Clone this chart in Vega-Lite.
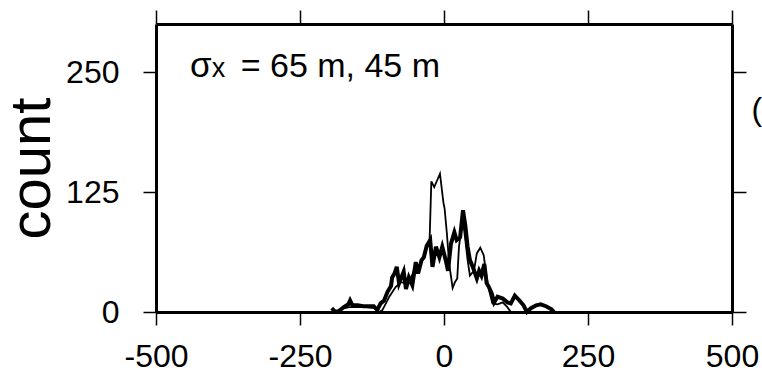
{
  "$schema": "https://vega.github.io/schema/vega-lite/v6.json",
  "autosize": "none",
  "width": 576,
  "height": 288,
  "padding": {"left": 156, "top": 24, "right": 30, "bottom": 61},
  "background": "white",
  "config": {
    "view": {"stroke": null},
    "font": "Liberation Sans",
    "text": {"font": "Liberation Sans", "color": "black"},
    "axis": {
      "grid": false,
      "domainColor": "black",
      "domainWidth": 3,
      "tickColor": "black",
      "tickWidth": 1.5,
      "labelColor": "black",
      "labelFont": "Liberation Sans",
      "labelFontSize": 32,
      "labelFlush": false,
      "labelOverlap": false,
      "labelBound": false,
      "titleFont": "Liberation Sans",
      "titleColor": "black",
      "titleFontWeight": "normal"
    }
  },
  "datasets": {
    "hist": [
      {"series": "thick", "x": -195, "count": 4},
      {"series": "thick", "x": -190, "count": 1},
      {"series": "thick", "x": -185, "count": 0},
      {"series": "thick", "x": -174, "count": 5},
      {"series": "thick", "x": -166, "count": 8},
      {"series": "thick", "x": -163, "count": 12},
      {"series": "thick", "x": -159, "count": 7},
      {"series": "thick", "x": -150, "count": 7},
      {"series": "thick", "x": -140, "count": 6},
      {"series": "thick", "x": -130, "count": 6},
      {"series": "thick", "x": -122, "count": 6},
      {"series": "thick", "x": -116, "count": 2},
      {"series": "thick", "x": -110, "count": 9},
      {"series": "thick", "x": -104, "count": 12},
      {"series": "thick", "x": -98, "count": 21},
      {"series": "thick", "x": -92, "count": 27},
      {"series": "thick", "x": -90, "count": 36},
      {"series": "thick", "x": -86, "count": 40},
      {"series": "thick", "x": -82, "count": 47},
      {"series": "thick", "x": -78, "count": 30},
      {"series": "thick", "x": -74, "count": 36},
      {"series": "thick", "x": -70, "count": 42},
      {"series": "thick", "x": -66, "count": 24},
      {"series": "thick", "x": -61, "count": 36},
      {"series": "thick", "x": -55, "count": 28},
      {"series": "thick", "x": -49, "count": 52},
      {"series": "thick", "x": -45, "count": 40},
      {"series": "thick", "x": -39, "count": 54},
      {"series": "thick", "x": -35, "count": 57},
      {"series": "thick", "x": -30, "count": 69},
      {"series": "thick", "x": -24, "count": 75},
      {"series": "thick", "x": -20, "count": 47},
      {"series": "thick", "x": -14, "count": 68},
      {"series": "thick", "x": -8, "count": 57},
      {"series": "thick", "x": -3, "count": 68},
      {"series": "thick", "x": 3, "count": 54},
      {"series": "thick", "x": 7, "count": 43},
      {"series": "thick", "x": 12, "count": 71},
      {"series": "thick", "x": 18, "count": 83},
      {"series": "thick", "x": 22, "count": 75},
      {"series": "thick", "x": 28, "count": 78},
      {"series": "thick", "x": 33, "count": 106},
      {"series": "thick", "x": 37, "count": 90},
      {"series": "thick", "x": 41, "count": 68},
      {"series": "thick", "x": 45, "count": 54},
      {"series": "thick", "x": 50, "count": 47},
      {"series": "thick", "x": 54, "count": 40},
      {"series": "thick", "x": 57, "count": 35},
      {"series": "thick", "x": 61, "count": 43},
      {"series": "thick", "x": 65, "count": 38},
      {"series": "thick", "x": 70, "count": 50},
      {"series": "thick", "x": 74, "count": 30},
      {"series": "thick", "x": 78, "count": 26},
      {"series": "thick", "x": 83, "count": 19},
      {"series": "thick", "x": 87, "count": 10},
      {"series": "thick", "x": 93, "count": 16},
      {"series": "thick", "x": 102, "count": 14},
      {"series": "thick", "x": 110, "count": 10},
      {"series": "thick", "x": 116, "count": 9},
      {"series": "thick", "x": 123, "count": 17},
      {"series": "thick", "x": 131, "count": 12},
      {"series": "thick", "x": 138, "count": 7},
      {"series": "thick", "x": 144, "count": 0},
      {"series": "thick", "x": 151, "count": 4},
      {"series": "thick", "x": 160, "count": 7},
      {"series": "thick", "x": 168, "count": 8},
      {"series": "thick", "x": 177, "count": 6},
      {"series": "thick", "x": 186, "count": 3},
      {"series": "thick", "x": 191, "count": 0},
      {"series": "thin", "x": -172, "count": 4},
      {"series": "thin", "x": -165, "count": 5},
      {"series": "thin", "x": -150, "count": 5},
      {"series": "thin", "x": -135, "count": 5},
      {"series": "thin", "x": -120, "count": 4},
      {"series": "thin", "x": -112, "count": 0},
      {"series": "thin", "x": -107, "count": 2},
      {"series": "thin", "x": -100, "count": 10},
      {"series": "thin", "x": -95, "count": 16},
      {"series": "thin", "x": -84, "count": 26},
      {"series": "thin", "x": -75, "count": 31},
      {"series": "thin", "x": -66, "count": 30},
      {"series": "thin", "x": -58, "count": 35},
      {"series": "thin", "x": -49, "count": 47},
      {"series": "thin", "x": -40, "count": 50},
      {"series": "thin", "x": -33, "count": 62},
      {"series": "thin", "x": -29, "count": 68},
      {"series": "thin", "x": -25, "count": 75},
      {"series": "thin", "x": -22, "count": 136},
      {"series": "thin", "x": -17, "count": 130},
      {"series": "thin", "x": -12, "count": 137},
      {"series": "thin", "x": -7, "count": 144},
      {"series": "thin", "x": -1, "count": 114},
      {"series": "thin", "x": 1, "count": 108},
      {"series": "thin", "x": 5, "count": 82},
      {"series": "thin", "x": 9, "count": 50},
      {"series": "thin", "x": 15, "count": 25},
      {"series": "thin", "x": 19, "count": 31},
      {"series": "thin", "x": 23, "count": 35},
      {"series": "thin", "x": 26, "count": 68},
      {"series": "thin", "x": 30, "count": 85},
      {"series": "thin", "x": 33, "count": 95},
      {"series": "thin", "x": 37, "count": 75},
      {"series": "thin", "x": 41, "count": 54},
      {"series": "thin", "x": 45, "count": 38},
      {"series": "thin", "x": 52, "count": 43},
      {"series": "thin", "x": 57, "count": 61},
      {"series": "thin", "x": 63, "count": 67},
      {"series": "thin", "x": 69, "count": 59},
      {"series": "thin", "x": 73, "count": 40},
      {"series": "thin", "x": 78, "count": 23},
      {"series": "thin", "x": 84, "count": 9},
      {"series": "thin", "x": 93, "count": 8},
      {"series": "thin", "x": 102, "count": 10},
      {"series": "thin", "x": 110, "count": 5},
      {"series": "thin", "x": 116, "count": 0}
    ]
  },
  "layer": [
    {
      "data": {"name": "hist"},
      "transform": [{"filter": "datum.series === 'thick'"}],
      "mark": {"type": "line", "color": "black", "strokeWidth": 4},
      "encoding": {
        "x": {
          "field": "x", "type": "quantitative",
          "scale": {"domain": [-500, 500], "nice": false, "zero": false},
          "axis": {
            "orient": "bottom", "values": [-500, -250, 0, 250, 500],
            "tickSize": 13, "labelPadding": 16, "title": null,
            "labelExpr": "'' + datum.value"
          }
        },
        "y": {
          "field": "count", "type": "quantitative",
          "scale": {"domain": [0, 300], "nice": false},
          "axis": {
            "orient": "left", "values": [0, 125, 250],
            "tickSize": 13, "labelPadding": 24,
            "title": "count", "titleFontSize": 58, "titlePadding": 4
          }
        }
      }
    },
    {
      "data": {"name": "hist"},
      "transform": [{"filter": "datum.series === 'thin'"}],
      "mark": {"type": "line", "color": "black", "strokeWidth": 1.8},
      "encoding": {
        "x": {"field": "x", "type": "quantitative", "axis": null},
        "y": {"field": "count", "type": "quantitative", "axis": null}
      }
    },
    {
      "data": {"values": [{"t": "σ"}]},
      "mark": {"type": "text", "fontSize": 35, "align": "left", "baseline": "alphabetic"},
      "encoding": {
        "x": {"datum": -441, "type": "quantitative", "axis": null},
        "y": {"datum": 245, "type": "quantitative", "axis": null},
        "text": {"field": "t"}
      }
    },
    {
      "data": {"values": [{"t": "x"}]},
      "mark": {"type": "text", "fontSize": 27, "align": "left", "baseline": "alphabetic"},
      "encoding": {
        "x": {"datum": -403, "type": "quantitative", "axis": null},
        "y": {"datum": 245, "type": "quantitative", "axis": null},
        "text": {"field": "t"}
      }
    },
    {
      "data": {"values": [{"t": "= 65 m, 45 m"}]},
      "mark": {"type": "text", "fontSize": 34, "align": "left", "baseline": "alphabetic"},
      "encoding": {
        "x": {"datum": -353, "type": "quantitative", "axis": null},
        "y": {"datum": 245, "type": "quantitative", "axis": null},
        "text": {"field": "t"}
      }
    },
    {
      "data": {"values": [{"t": "(b)"}]},
      "mark": {"type": "text", "fontSize": 32, "align": "left", "baseline": "alphabetic"},
      "encoding": {
        "x": {"datum": 534, "type": "quantitative", "axis": null},
        "y": {"datum": 200, "type": "quantitative", "axis": null},
        "text": {"field": "t"}
      }
    },
    {
      "data": {"values": [{}]},
      "mark": {"type": "rule", "color": "black", "strokeWidth": 0},
      "encoding": {
        "x": {"datum": 0, "type": "quantitative", "axis": {"orient": "top", "values": [-500, -250, 0, 250, 500], "labels": false, "tickSize": 14, "title": null}},
        "y": {"datum": 0, "type": "quantitative", "axis": {"orient": "right", "values": [0, 125, 250], "labels": false, "tickSize": 14, "title": null}}
      }
    }
  ],
  "resolve": {"axis": {"x": "independent", "y": "independent"}}
}
